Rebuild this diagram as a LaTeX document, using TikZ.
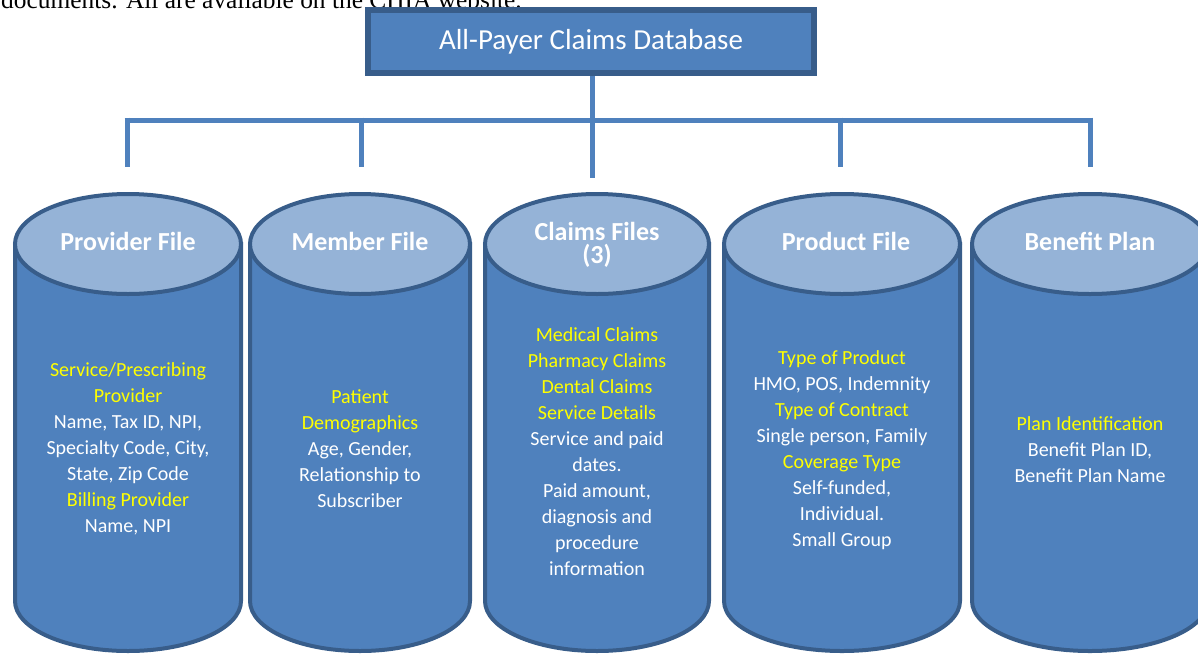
\documentclass[tikz,border=0pt]{standalone}
\usepackage{fontspec}
\setmainfont{Carlito}
\newfontfamily\notefont{Liberation Serif}
\definecolor{apcdblue}{HTML}{4F81BD}
\definecolor{apcddark}{HTML}{385D8A}
\definecolor{apcdlight}{HTML}{95B3D7}
\definecolor{apcdyellow}{HTML}{FFFF00}
\newcommand{\hl}[1]{\textcolor{apcdyellow}{#1}}
\tikzset{
  cylbody/.style={fill=apcdblue, draw=apcddark, line width=4pt},
  cyltop/.style={fill=apcdlight, draw=apcddark, line width=4pt},
  hdr/.style={text=white, align=center, font=\fontsize{26}{23}\selectfont\bfseries},
  filetext/.style={text=white, align=center, font=\fontsize{20}{26}\selectfont},
  tree/.style={draw=apcdblue, line width=5pt},
}

\begin{document}
\begin{tikzpicture}[x=1pt, y=1pt]
  \useasboundingbox (0,0) rectangle (1198,-656);
  \node[anchor=base west, inner sep=0pt, font=\notefont\fontsize{25.4}{28}\selectfont] (note) at (1,-8) {documents. All are available on the CHIA website.};

  \node[draw=apcddark, fill=apcdblue, line width=6pt, minimum width=446pt, minimum height=63pt, text=white, font=\fontsize{29}{32}\selectfont] (apcd) at (591,-41.5) {All-Payer Claims Database};

  \coordinate (hubdrop) at (592,-178);
  \coordinate (barleft) at (124.5,-120);
  \coordinate (barright) at (1092.5,-120);
  \draw[tree] (apcd.south -| hubdrop) -- (hubdrop);
  \draw[tree] (barleft) -- (barright);
  \foreach \name/\x in {provdrop/127, memdrop/361, proddrop/840, bendrop/1090} {
    \coordinate (\name) at (\x,-167);
    \draw[tree] (\x,-117.5) -- (\name);
  }

  \filldraw[cylbody] (15,-244) -- (15,-601) arc[start angle=180, end angle=360, x radius=113, y radius=50] -- (241,-244) -- cycle;
  \filldraw[cyltop] (128,-244) ellipse[x radius=113, y radius=50];
  \filldraw[cylbody] (250,-244) -- (250,-601) arc[start angle=180, end angle=360, x radius=110, y radius=50] -- (470,-244) -- cycle;
  \filldraw[cyltop] (360,-244) ellipse[x radius=110, y radius=50];
  \filldraw[cylbody] (485,-244) -- (485,-601) arc[start angle=180, end angle=360, x radius=112, y radius=50] -- (709,-244) -- cycle;
  \filldraw[cyltop] (597,-244) ellipse[x radius=112, y radius=50];
  \filldraw[cylbody] (724,-244) -- (724,-601) arc[start angle=180, end angle=360, x radius=118, y radius=50] -- (960,-244) -- cycle;
  \filldraw[cyltop] (842,-244) ellipse[x radius=118, y radius=50];
  \filldraw[cylbody] (972,-244) -- (972,-601) arc[start angle=180, end angle=360, x radius=118, y radius=50] -- (1208,-244) -- cycle;
  \filldraw[cyltop] (1090,-244) ellipse[x radius=118, y radius=50];

  \node[hdr] (provhdr) at (128,-241) {Provider File};
  \node[hdr] (memhdr) at (360,-241) {Member File};
  \node[hdr] (claimhdr) at (597,-245) {Claims Files\\(3)};
  \node[hdr] (prodhdr) at (846,-241) {Product File};
  \node[hdr] (benhdr) at (1090,-241) {Benefit Plan};

  \node[filetext] (provtext) at (128,-449) {\hl{Service/Prescribing}\\\hl{Provider}\\Name, Tax ID, NPI,\\Specialty Code, City,\\State, Zip Code\\\hl{Billing Provider}\\Name, NPI};
  \node[filetext] (memtext) at (360,-449) {\hl{Patient}\\\hl{Demographics}\\Age, Gender,\\Relationship to\\Subscriber};
  \node[filetext] (claimtext) at (597,-452) {\hl{Medical Claims}\\\hl{Pharmacy Claims}\\\hl{Dental Claims}\\\hl{Service Details}\\Service and paid\\dates.\\Paid amount,\\diagnosis and\\procedure\\information};
  \node[filetext] (prodtext) at (842,-450) {\hl{Type of Product}\\HMO, POS, Indemnity\\\hl{Type of Contract}\\Single person, Family\\\hl{Coverage Type}\\Self-funded,\\Individual.\\Small Group};
  \node[filetext] (bentext) at (1090,-450) {\hl{Plan Identification}\\Benefit Plan ID,\\Benefit Plan Name};
\end{tikzpicture}
\end{document}
